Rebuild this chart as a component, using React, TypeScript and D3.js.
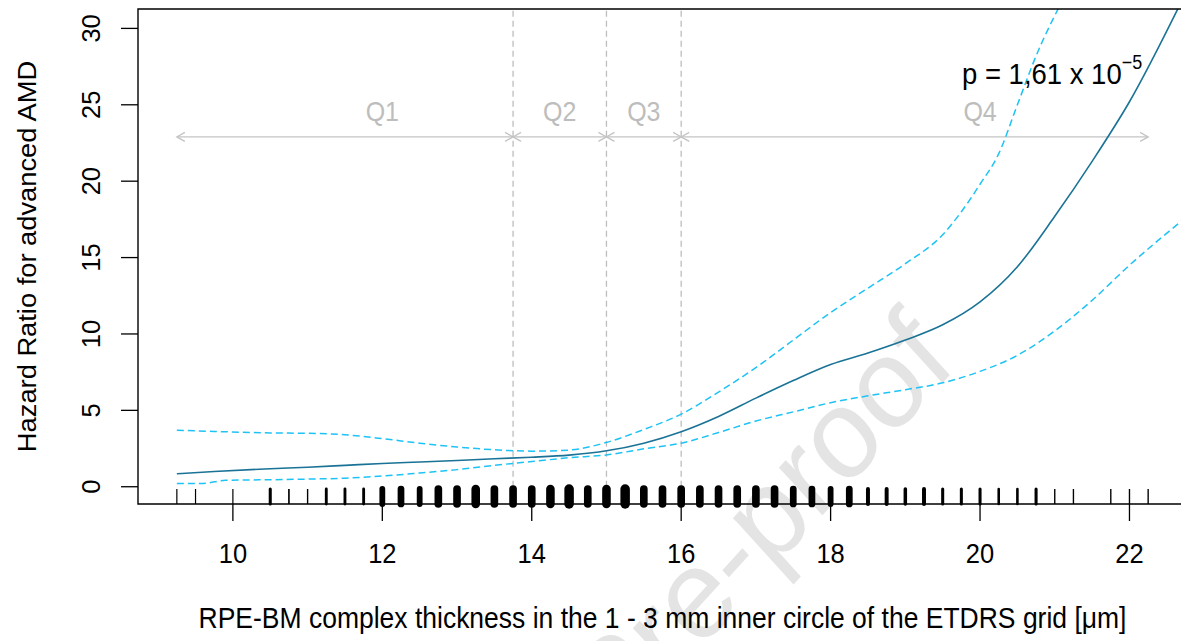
import React from "react";
import * as d3 from "d3";

// ---- data ----
const xTicks = [10, 12, 14, 16, 18, 20, 22];
const yTicks = [0, 5, 10, 15, 20, 25, 30];

const hrX = [9.25, 9.75, 10.5, 11, 11.5, 12, 12.5, 13, 13.5, 14, 14.5, 15, 15.5, 16, 16.5, 17, 17.5, 18, 18.5, 19, 19.5, 20, 20.5, 21, 21.5, 22, 22.7];
const hrY = [0.85, 1.0, 1.18, 1.28, 1.4, 1.52, 1.62, 1.72, 1.83, 1.93, 2.07, 2.35, 2.85, 3.6, 4.6, 5.8, 6.95, 8.0, 8.75, 9.6, 10.6, 12.1, 14.4, 17.7, 21.3, 25.2, 31.8];

const upX = [9.25, 9.75, 10.5, 11, 11.5, 12, 12.5, 13, 13.5, 14, 14.5, 15, 15.5, 16, 16.5, 17, 17.5, 18, 18.5, 19, 19.5, 19.75, 20, 20.25, 20.5, 20.75, 21.1];
const upY = [3.7, 3.62, 3.52, 3.5, 3.4, 3.15, 2.85, 2.6, 2.42, 2.33, 2.4, 2.9, 3.75, 4.75, 6.2, 7.8, 9.6, 11.4, 13.0, 14.6, 16.5, 18.0, 19.8, 21.8, 25.0, 28.2, 31.8];

const loX = [9.25, 9.6, 9.9, 10.5, 11, 11.5, 12, 12.5, 13, 13.5, 14, 14.5, 15, 15.5, 16, 16.5, 17, 17.5, 18, 18.5, 19, 19.5, 20, 20.5, 21, 21.5, 22, 22.7];
const loY = [0.22, 0.22, 0.42, 0.46, 0.5, 0.56, 0.7, 0.9, 1.12, 1.4, 1.65, 1.9, 2.08, 2.48, 2.85, 3.55, 4.3, 4.9, 5.5, 5.95, 6.35, 6.8, 7.55, 8.6, 10.2, 12.2, 14.5, 17.4];

const rugValues = [9.25, 9.5, 10, 10.5, 10.75, 11, 11.25, 11.5, 11.75, 12, 12.25, 12.5, 12.75, 13, 13.25, 13.5, 13.75, 14, 14.25, 14.5, 14.75, 15, 15.25, 15.5, 15.75, 16, 16.25, 16.5, 16.75, 17, 17.25, 17.5, 17.75, 18, 18.25, 18.5, 18.75, 19, 19.25, 19.5, 19.75, 20, 20.25, 20.5, 20.75, 21, 21.25, 21.75, 22, 22.25];
const rugWeights = [1, 1, 1, 3, 1.5, 1.2, 2.8, 2.8, 2.8, 6, 7, 6, 8, 8, 9, 8, 8, 8, 9, 10, 8, 9, 10, 8, 8, 8, 8, 8, 8, 8, 8, 7, 7, 6, 7, 4, 4, 3.5, 4, 3, 3, 3, 2.5, 2.5, 3, 1.2, 1.2, 1.2, 1.2, 1.2];

const quartileCuts = [13.75, 15, 16];
const dataRange = [9.25, 22.25];
const qLabels = ["Q1", "Q2", "Q3", "Q4"];
const qLabelX = [12, 14.375, 15.5, 20];
const arrowLevel = 22.9;

const xTitle = "RPE-BM complex thickness in the 1 - 3 mm inner circle of the ETDRS grid [\u03bcm]";
const yTitle = "Hazard Ratio for advanced AMD";
const pText = "p = 1,61 x 10";
const pExp = "\u22125";
const watermark = "Journal Pre-proof";

// ---- layout ----
const W = 1181, H = 641;
const left = 138, right = 1187, top = 9, bottom = 504;
const FONT = "'Liberation Sans', Arial, sans-serif";

export default function App() {
  const x = d3.scaleLinear().domain([8.73, 22.77]).range([left, right]);
  const y = d3.scaleLinear().domain([-1.13, 31.27]).range([bottom, top]);
  const line = d3
    .line<[number, number]>()
    .x((d) => x(d[0]))
    .y((d) => y(d[1]))
    .curve(d3.curveMonotoneX);
  const hr = line(hrX.map((v, i) => [v, hrY[i]] as [number, number])) || "";
  const up = line(upX.map((v, i) => [v, upY[i]] as [number, number])) || "";
  const lo = line(loX.map((v, i) => [v, loY[i]] as [number, number])) || "";
  const rugW = d3.scaleLinear().domain([1, 10]).range([1.2, 9.5]);

  const cuts = [dataRange[0], ...quartileCuts, dataRange[1]];
  const ay = y(arrowLevel);
  const head = (px: number, dir: number, key: string) => {
    const L = 8, h = 4.5;
    return (
      <path
        key={key}
        d={`M${px + dir * L},${ay - h}L${px},${ay}L${px + dir * L},${ay + h}`}
        fill="none"
        stroke="#c4c4c4"
        strokeWidth={1.3}
      />
    );
  };

  return (
    <svg
      width={W}
      height={H}
      style={{ position: "absolute", left: 0, top: 0, background: "#fff" }}
      fontFamily={FONT}
    >
      <defs>
        <clipPath id="plot">
          <rect x={left} y={top} width={right - left} height={bottom - top} />
        </clipPath>
      </defs>
      <rect x={0} y={0} width={W} height={H} fill="#fff" />

      {/* watermark */}
      <text
        transform="translate(958,366) scale(1,1.1) rotate(-45)"
        textAnchor="end"
        fontSize={116}
        fill="#e4e4e4"
      >
        {watermark}
      </text>

      {/* quartile vertical lines */}
      {quartileCuts.map((c, i) => (
        <line
          key={"q" + i}
          x1={x(c)}
          x2={x(c)}
          y1={y(0)}
          y2={top}
          stroke="#bdbdbd"
          strokeWidth={1.3}
          strokeDasharray="6,4"
        />
      ))}

      {/* quartile arrows */}
      {cuts.slice(0, -1).map((a, i) => {
        const b = cuts[i + 1];
        return (
          <g key={"arr" + i}>
            <line x1={x(a)} x2={x(b)} y1={ay} y2={ay} stroke="#c4c4c4" strokeWidth={1.3} />
            {head(x(a), 1, "ha")}
            {head(x(b), -1, "hb")}
          </g>
        );
      })}
      {qLabels.map((q, i) => (
        <text
          key={q}
          transform={`translate(${x(qLabelX[i])},${ay - 16}) scale(1,1.1)`}
          textAnchor="middle"
          fontSize={25}
          fill="#bdbdbd"
        >
          {q}
        </text>
      ))}

      {/* curves */}
      <g clipPath="url(#plot)">
        <path d={up} fill="none" stroke="#1EC3F5" strokeWidth={1.5} strokeDasharray="7,4" />
        <path d={lo} fill="none" stroke="#1EC3F5" strokeWidth={1.5} strokeDasharray="7,4" />
        <path d={hr} fill="none" stroke="#1a7396" strokeWidth={1.6} />
      </g>

      {/* rug */}
      {rugValues.map((v, i) => (
        <line
          key={"r" + i}
          x1={x(v)}
          x2={x(v)}
          y1={bottom}
          y2={bottom - 15}
          stroke="#000"
          strokeWidth={rugW(rugWeights[i])}
          strokeLinecap={rugWeights[i] > 2 ? "round" : "butt"}
        />
      ))}

      {/* box */}
      <path
        d={`M${right},${top}H${left}V${bottom}H${right}`}
        fill="none"
        stroke="#000"
        strokeWidth={1.4}
      />

      {/* x axis */}
      {xTicks.map((t) => (
        <g key={"xt" + t}>
          <line x1={x(t)} x2={x(t)} y1={bottom} y2={bottom + 17} stroke="#000" strokeWidth={1.3} />
          <text
            transform={`translate(${x(t)},563) scale(1,1.1)`}
            textAnchor="middle"
            fontSize={25.5}
            fill="#000"
          >
            {t}
          </text>
        </g>
      ))}

      {/* y axis */}
      {yTicks.map((t) => (
        <g key={"yt" + t}>
          <line x1={left - 17} x2={left} y1={y(t)} y2={y(t)} stroke="#000" strokeWidth={1.3} />
          <text
            transform={`translate(100,${y(t)}) rotate(-90)`}
            textAnchor="middle"
            fontSize={25.5}
            fill="#000"
          >
            {t}
          </text>
        </g>
      ))}

      {/* titles */}
      <text
        transform={`translate(${(left + right) / 2},628) scale(1,1.1)`}
        textAnchor="middle"
        fontSize={26.5}
        fill="#000"
      >
        {xTitle}
      </text>
      <text
        transform={`translate(36,${(top + bottom) / 2}) scale(1,1.03) rotate(-90)`}
        textAnchor="middle"
        fontSize={26.5}
        fill="#000"
      >
        {yTitle}
      </text>

      {/* p value */}
      <text transform="translate(962,84) scale(1,1.1)" fontSize={27.5} fill="#000">
        {pText}
        <tspan fontSize={18} dy={-14}>
          {pExp}
        </tspan>
      </text>
    </svg>
  );
}
